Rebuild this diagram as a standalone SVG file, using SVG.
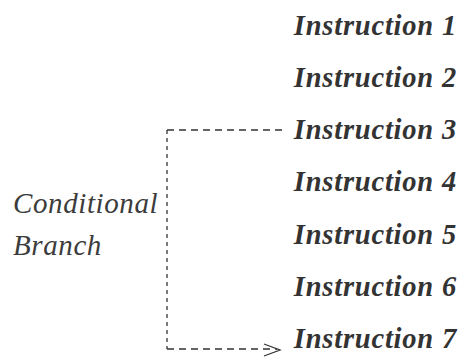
<svg xmlns="http://www.w3.org/2000/svg" width="462" height="360" viewBox="0 0 462 360">
<style>
.ins{font-family:"Liberation Serif","Times New Roman",serif;font-style:italic;font-weight:bold;font-size:28.5px;letter-spacing:0.8px;fill:#333;text-anchor:end}
.lbl{font-family:"Liberation Serif","Times New Roman",serif;font-style:italic;font-size:29px;letter-spacing:0.6px;fill:#3c3c3c}
.dash{fill:none;stroke:#333;stroke-width:1.3}
</style>
<rect width="462" height="360" fill="#fff"/>
<g id="instruction1"><text class="ins" x="457" y="35">Instruction 1</text></g>
<g id="instruction2"><text class="ins" x="457" y="87">Instruction 2</text></g>
<g id="instruction3"><text class="ins" x="457" y="139">Instruction 3</text></g>
<g id="instruction4"><text class="ins" x="457" y="191">Instruction 4</text></g>
<g id="instruction5"><text class="ins" x="457" y="244">Instruction 5</text></g>
<g id="instruction6"><text class="ins" x="457" y="296">Instruction 6</text></g>
<g id="instruction7"><text class="ins" x="457" y="348">Instruction 7</text></g>
<g id="conditional-branch">
<text class="lbl" x="13" y="213">Conditional</text>
<text class="lbl" x="13" y="255">Branch</text>
</g>
<g id="connectors">
<path class="dash" d="M282,130 H167" stroke-dasharray="7,5"/>
<path class="dash" d="M167,130 V349" stroke-dasharray="4,4"/>
<path class="dash" d="M167,349 H277" stroke-dasharray="7,5"/>
<path class="dash" d="M264,344 L280,350 L264,356"/>
</g>
</svg>
